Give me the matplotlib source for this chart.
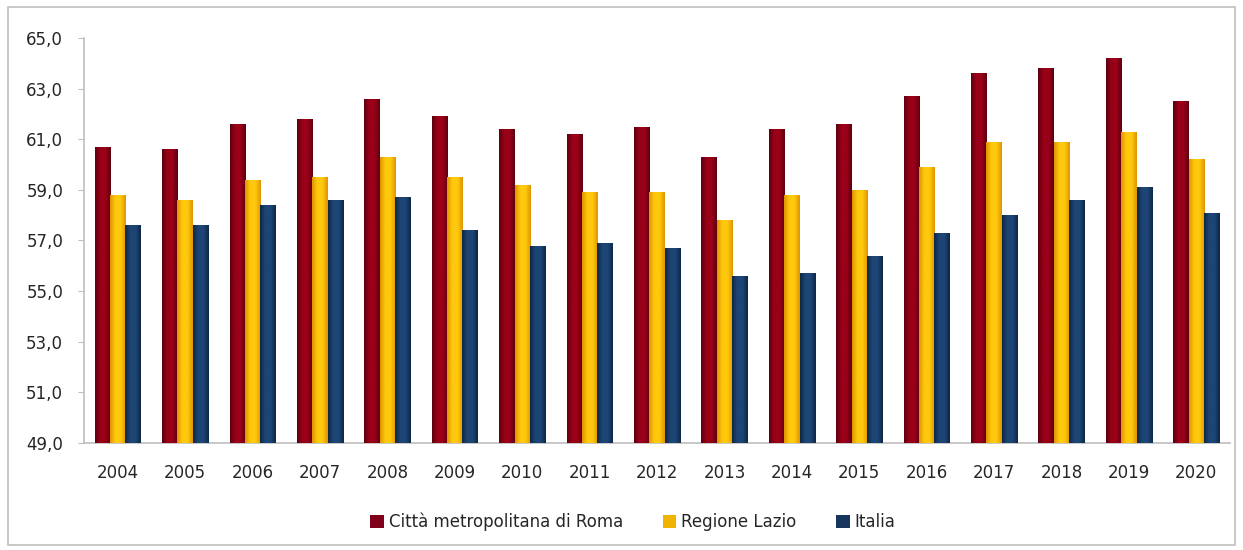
import numpy as np
import matplotlib
matplotlib.use("Agg")
import matplotlib.pyplot as plt
from matplotlib.patches import Rectangle
from matplotlib.colors import LinearSegmentedColormap
from matplotlib.ticker import FuncFormatter

plt.rcParams["font.family"] = ["DejaVu Sans"]

years = ["2004", "2005", "2006", "2007", "2008", "2009", "2010", "2011", "2012",
         "2013", "2014", "2015", "2016", "2017", "2018", "2019", "2020"]
roma = [60.7, 60.6, 61.6, 61.8, 62.6, 61.9, 61.4, 61.2, 61.5,
        60.3, 61.4, 61.6, 62.7, 63.6, 63.8, 64.2, 62.5]
lazio = [58.8, 58.6, 59.4, 59.5, 60.3, 59.5, 59.2, 58.9, 58.9,
         57.8, 58.8, 59.0, 59.9, 60.9, 60.9, 61.3, 60.2]
italia = [57.6, 57.6, 58.4, 58.6, 58.7, 57.4, 56.8, 56.9, 56.7,
          55.6, 55.7, 56.4, 57.3, 58.0, 58.6, 59.1, 58.1]
series_names = ["Città metropolitana di Roma", "Regione Lazio", "Italia"]
yticks = [49, 51, 53, 55, 57, 59, 61, 63, 65]

# (edge colour, centre colour) for a cylinder-like horizontal gradient
shades = [("#5c000d", "#9a0019"), ("#e09400", "#ffc90e"), ("#0e2644", "#1d4676")]
legend_cols = ["#80001a", "#f0b400", "#17365d"]

fig = plt.figure(figsize=(12.43, 5.5), dpi=100)
ax = fig.add_axes([0.0676, 0.1945, 0.922, 0.7365])

x = np.arange(len(years))
w = 0.228
offsets = [-w, 0, w]
ymin = 49.0

for vals, off, (ec, cc), lc, name in zip([roma, lazio, italia], offsets, shades,
                                          legend_cols, series_names):
    bars = ax.bar(x + off, np.array(vals) - ymin, width=w, bottom=ymin,
                  color=lc, label=name, zorder=2, linewidth=0)
    cmap = LinearSegmentedColormap.from_list("g", [ec, cc, cc, ec])
    grad = np.linspace(0, 1, 64).reshape(1, -1)
    for b in bars:
        bx, by = b.get_x(), b.get_y()
        bw, bh = b.get_width(), b.get_height()
        im = ax.imshow(grad, cmap=cmap, aspect="auto",
                       extent=[bx, bx + bw, by, by + bh], zorder=3,
                       interpolation="bicubic")
        im.set_clip_path(b)

ax.set_xlim(-0.5, len(years) - 0.5)
ax.set_ylim(49, 65)
ax.set_yticks(yticks)
ax.yaxis.set_major_formatter(FuncFormatter(lambda v, p: f"{v:.1f}".replace(".", ",")))
ax.set_xticks(x)
ax.set_xticklabels(years)

for s in ["top", "right"]:
    ax.spines[s].set_visible(False)
for s in ["left", "bottom"]:
    ax.spines[s].set_color("#bfbfbf")
    ax.spines[s].set_linewidth(1.2)
ax.tick_params(axis="y", length=4, color="#bfbfbf", labelsize=12,
               labelcolor="#262626", pad=11)
ax.tick_params(axis="x", length=0, labelsize=12, labelcolor="#262626", pad=15)

leg = fig.legend(*ax.get_legend_handles_labels(), loc="center",
                 bbox_to_anchor=(633 / 1243, 1 - 522 / 550), ncol=3,
                 frameon=False, fontsize=12, handlelength=0.8, handleheight=0.8,
                 handletextpad=0.3, columnspacing=2.4)
for t in leg.get_texts():
    t.set_color("#262626")

fig.patches.append(Rectangle((8 / 1243, 5 / 550), 1227 / 1243, 538 / 550,
                             transform=fig.transFigure, fill=False,
                             edgecolor="#bfbfbf", linewidth=1.2))

fig.savefig("out.png", dpi=100)
